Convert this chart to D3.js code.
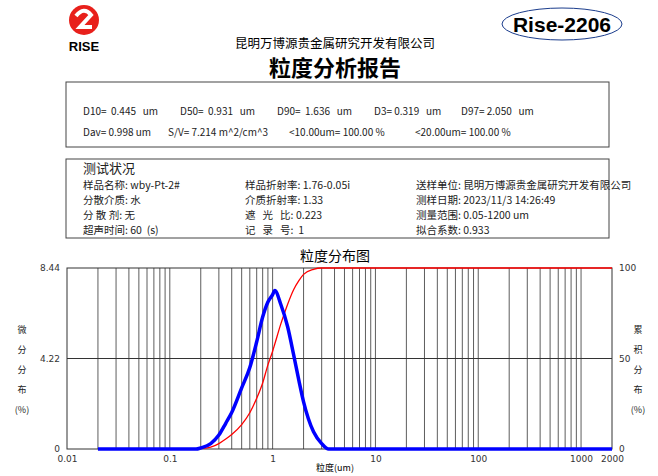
<!DOCTYPE html>
<html><head><meta charset="utf-8">
<script src="https://cdn.jsdelivr.net/npm/d3@7"></script>
<style>body{margin:0;background:#fff}svg{font-family:"Noto Sans CJK SC","Noto Sans",sans-serif}text{white-space:pre}</style>
</head><body><svg id="c" width="658" height="476"></svg>
<script>
// particle size (um) and the two curves
const sizes  = [0.02, 0.18, 0.2, 0.25, 0.3, 0.35, 0.4, 0.5, 0.6, 0.7, 0.8, 0.9, 1.0, 1.05, 1.2, 1.4, 1.6, 1.8, 2.0, 2.5, 3.0, 3.5, 2000];
const diff   = [0, 0, 0.05, 0.25, 0.65, 1.2, 1.7, 2.85, 3.8, 5.0, 6.15, 6.85, 7.2, 7.39, 6.75, 5.7, 4.4, 3.2, 2.2, 0.8, 0.25, 0, 0];
const cumul  = [0, 0, 0.2, 1, 3, 5.5, 8, 13.5, 20, 28, 36.5, 46.5, 54, 58, 69, 80, 88, 93, 96.5, 99.3, 100, 100, 100];
const xTicks = [0.01, 0.1, 1, 10, 100, 1000, 2000];
const leftTicks = [0, 4.22, 8.44];
const rightTicks = [0, 50, 100];

const svg = d3.select('#c');
const L = 67, R = 612, T = 268, B = 449;
const x = d3.scaleLog().domain([0.01, 2000]).range([L, R]);
const yl = d3.scaleLinear().domain([0, 8.44]).range([B, T]);
const yr = d3.scaleLinear().domain([0, 100]).range([B, T]);

// header
const g = svg.append('g');
g.append('circle').attr('cx', 84).attr('cy', 20).attr('r', 15).attr('fill', '#e8201b');
g.append('path').attr('d', 'M76,16 Q84,6 91,15 L80,27 L92,27').attr('fill', 'none').attr('stroke', '#fff').attr('stroke-width', 4);
g.append('text').attr('x', 84).attr('y', 51).attr('text-anchor', 'middle').attr('font-size', 13).attr('font-weight', 'bold').attr('font-family', 'Liberation Sans').text('RISE');
g.append('ellipse').attr('cx', 562).attr('cy', 24).attr('rx', 60).attr('ry', 16).attr('fill', 'none').attr('stroke', '#1a3c8c');
g.append('text').attr('x', 562).attr('y', 32).attr('text-anchor', 'middle').attr('font-size', 21).attr('font-weight', 'bold').attr('font-family', 'Liberation Sans Narrow, Liberation Sans').text('Rise-2206');
g.append('text').attr('x', 335).attr('y', 48).attr('text-anchor', 'middle').attr('font-size', 12.5).text('昆明万博源贵金属研究开发有限公司');
g.append('text').attr('x', 335).attr('y', 76).attr('text-anchor', 'middle').attr('font-size', 22).attr('font-weight', 'bold').text('粒度分析报告');

// result boxes
svg.append('rect').attr('x', 66).attr('y', 82).attr('width', 543).attr('height', 65).attr('fill', 'none').attr('stroke', '#444');
svg.append('rect').attr('x', 66).attr('y', 159).attr('width', 543).attr('height', 79).attr('fill', 'none').attr('stroke', '#444');
const t = (xx, yy, s, fs) => svg.append('text').attr('x', xx).attr('y', yy).attr('font-size', fs || 10).attr('fill', '#222').text(s);
t(83, 115, 'D10=  0.445   um'); t(180, 115, 'D50=  0.931   um'); t(277, 115, 'D90=  1.636   um');
t(374, 115, 'D3= 0.319   um'); t(461, 115, 'D97= 2.050   um');
t(83, 136, 'Dav= 0.998 um'); t(168, 136, 'S/V= 7.214 m^2/cm^3'); t(289, 136, '<10.00um= 100.00 %'); t(415, 136, '<20.00um= 100.00 %');
t(83, 173, '测试状况', 13);
[['样品名称: wby-Pt-2#', '样品折射率: 1.76-0.05i', '送样单位: 昆明万博源贵金属研究开发有限公司'],
 ['分散介质: 水', '介质折射率: 1.33', '测样日期: 2023/11/3 14:26:49'],
 ['分 散 剂: 无', '遮   光   比: 0.223', '测量范围: 0.05-1200 um'],
 ['超声时间: 60  (s)', '记   录   号:  1', '拟合系数: 0.933']]
  .forEach((row, i) => row.forEach((s, j) => t([83, 245, 416][j], 189 + i * 15, s, 10.5)));

// chart
svg.append('text').attr('x', 335).attr('y', 261).attr('text-anchor', 'middle').attr('font-size', 14).text('粒度分布图');
const grid = [];
for (let d = 0.01; d < 1500; d *= 10) for (let k = 1; k <= 9; k++) { const v = d * k; if (v > 0.01 && v < 2000) grid.push(v); }
svg.append('g').selectAll('line').data(grid).join('line')
  .attr('x1', d => x(d)).attr('x2', d => x(d)).attr('y1', T).attr('y2', B).attr('stroke', '#333').attr('stroke-width', 0.8);
svg.append('line').attr('x1', L).attr('x2', R).attr('y1', yl(4.22)).attr('y2', yl(4.22)).attr('stroke', '#333');
svg.append('rect').attr('x', L).attr('y', T).attr('width', R - L).attr('height', B - T).attr('fill', 'none').attr('stroke', '#333');

const ax = s => s.call(g => g.select('.domain').remove()).call(g => g.selectAll('.tick line').remove())
  .call(g => g.selectAll('text').attr('font-size', 9).attr('fill', '#333').attr('font-family', 'DejaVu Sans'));
svg.append('g').attr('transform', `translate(0,${B + 4})`).call(d3.axisBottom(x).tickValues(xTicks).tickFormat(d3.format('~g')).tickSize(0)).call(ax);
svg.append('g').attr('transform', `translate(${L - 4},0)`).call(d3.axisLeft(yl).tickValues(leftTicks).tickFormat(d => d === 0 ? '0' : d.toFixed(2)).tickSize(0)).call(ax);
svg.append('g').attr('transform', `translate(${R + 4},0)`).call(d3.axisRight(yr).tickValues(rightTicks).tickSize(0)).call(ax);
svg.append('text').attr('x', 335).attr('y', 471).attr('text-anchor', 'middle').attr('font-size', 9).text('粒度(um)');
['微', '分', '分', '布', '(%)'].forEach((s, i) => t(22, 333 + i * 20, s, 9).attr('text-anchor', 'middle'));
['累', '积', '分', '布', '(%)'].forEach((s, i) => t(638, 333 + i * 20, s, 9).attr('text-anchor', 'middle'));

const pts = sizes.map((s, i) => ({ s, d: diff[i], c: cumul[i] }));
svg.append('path').datum(pts).attr('fill', 'none').attr('stroke', '#ff0000').attr('stroke-width', 1.3)
  .attr('d', d3.line().x(p => x(p.s)).y(p => yr(p.c)).curve(d3.curveMonotoneX));
svg.append('path').datum(pts).attr('fill', 'none').attr('stroke', '#0000ff').attr('stroke-width', 3.5)
  .attr('d', d3.line().x(p => x(p.s)).y(p => yl(p.d)).curve(d3.curveMonotoneX));
</script></body></html>
